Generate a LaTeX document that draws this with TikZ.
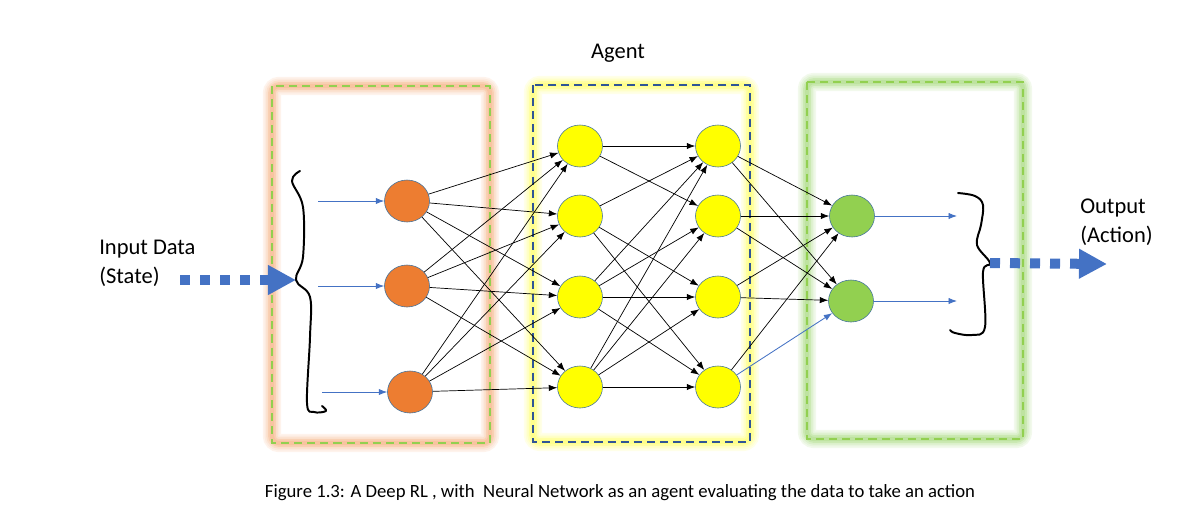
\documentclass[tikz,border=0pt]{standalone}
\usepackage{fontspec}
\setmainfont{Carlito}
\usetikzlibrary{shapes.geometric,arrows.meta}
\definecolor{orng}{HTML}{ED7D31}
\definecolor{ylw}{HTML}{FFFF00}
\definecolor{grn}{HTML}{92D050}
\definecolor{nblue}{HTML}{4472C4}
\definecolor{rim}{HTML}{41719C}
\definecolor{dblue}{HTML}{2F5597}
\definecolor{peach}{HTML}{F8C4A0}
\definecolor{pyel}{HTML}{FFFF8C}
\definecolor{pgrn}{HTML}{BEE3A0}
\begin{document}
\begin{tikzpicture}[>={Latex[length=6pt,width=4.5pt]},x=0.025cm,y=-0.025cm,
	neuron/.style={ellipse,draw=rim,line width=0.4pt,minimum width=1.125cm,minimum height=1.05cm,inner sep=0pt},
	wire/.style={->,line width=0.5pt},
	feed/.style={->,nblue,line width=0.6pt},
	fat/.style={nblue,line width=0.25cm,dash pattern=on 0.25cm off 0.25cm,-{Triangle[length=0.7cm,width=0.7cm]}},
	brace/.style={line width=1.4pt,line cap=round,line join=round},
	lbl/.style={font=\fontsize{16}{20.6}\selectfont,align=left,inner sep=0pt}]
	\useasboundingbox (0,0) rectangle (1179,529);
	% glow round the three boxes
	\foreach \w/\c in {13pt/20,10.5pt/35,8pt/55,5.5pt/80,3pt/100}{
		\draw[line width=\w,peach!\c,rounded corners=5pt] (272,86) rectangle (490,443);
		\draw[line width=\w,pyel!\c,rounded corners=5pt] (533,85) rectangle (750,442);
		\draw[line width=\w,pgrn!\c,rounded corners=5pt] (807,82) rectangle (1023,439);
	}
	\draw[grn,line width=1.2pt,dash pattern=on 5.7pt off 3.6pt] (272,86) rectangle (490,443);
	\draw[dblue,line width=2pt,dash pattern=on 5.7pt off 3.6pt] (533,85) rectangle (750,442);
	\draw[grn,line width=1.2pt,dash pattern=on 5.7pt off 3.6pt] (807,82) rectangle (1023,439);
	% neurons
	\foreach \n/\y in {1/201,2/286}
		\node[neuron,fill=orng] (i\n) at (407,\y) {};
	\node[neuron,fill=orng] (i3) at (410,392) {};
	\foreach \n/\y in {1/146,2/216,3/297,4/387}{
		\node[neuron,fill=ylw] (h\n) at (580,\y) {};
		\node[neuron,fill=ylw] (k\n) at (718,\y) {};
	}
	\node[neuron,fill=grn] (o1) at (852,216) {};
	\node[neuron,fill=grn] (o2) at (851,301) {};
	% weights
	\foreach \a in {1,2,3}
		\foreach \b in {1,2,3,4}
			\draw[wire] (i\a) -- (h\b);
	\foreach \a/\b in {1/1,1/2,2/1,2/3,2/4,3/1,3/2,3/3,3/4,4/1,4/2,4/3,4/4}
		\draw[wire] (h\a) -- (k\b);
	\foreach \a in {1,2,3}
		\foreach \b in {1,2}
			\draw[wire] (k\a) -- (o\b);
	\draw[wire] (k4) -- (o1);
	\draw[feed] (k4) -- (o2);
	% inputs and outputs
	\foreach \n/\y in {1/201,2/286}
		\coordinate (s\n) at (318,\y);
	\coordinate (s3) at (322,392);
	\coordinate (t1) at (957,216);
	\coordinate (t2) at (957,301);
	\foreach \n in {1,2,3}
		\draw[feed] (s\n) -- (i\n);
	\foreach \n in {1,2}
		\draw[feed] (o\n) -- (t\n);
	% braces
	\coordinate (lb) at (296,280);
	\coordinate (rb) at (990,263);
	\draw[brace] plot[smooth,tension=0.6] coordinates {(300,171) (292,181) (303,207) (303,257) (lb) (310,297) (310,337) (307,403) (314,412) (326,411) (322,406)};
	\draw[brace] plot[smooth,tension=0.6] coordinates {(958,193) (975,196) (983,205) (981,225) (977,245) (rb) (983,272) (985,327) (972,335) (955,333) (950,330)};
	\coordinate (a) at (180,280);
	\coordinate (b) at (1107,264);
	\draw[fat] (a) -- (lb);
	\draw[fat] (rb) -- (b);
	% texts
	\node[lbl] (agent) at (618,53) {Agent};
	\node[lbl,anchor=west] (inp) at (99,263) {Input Data\\(State)};
	\node[lbl,anchor=west] (outp) at (1080,222) {Output\\(Action)};
	\node[font=\fontsize{13.3}{15}\selectfont] (cap) at (620,493) {Figure 1.3: A Deep RL , with\ \ Neural Network as an agent evaluating the data to take an action};
\end{tikzpicture}
\end{document}
